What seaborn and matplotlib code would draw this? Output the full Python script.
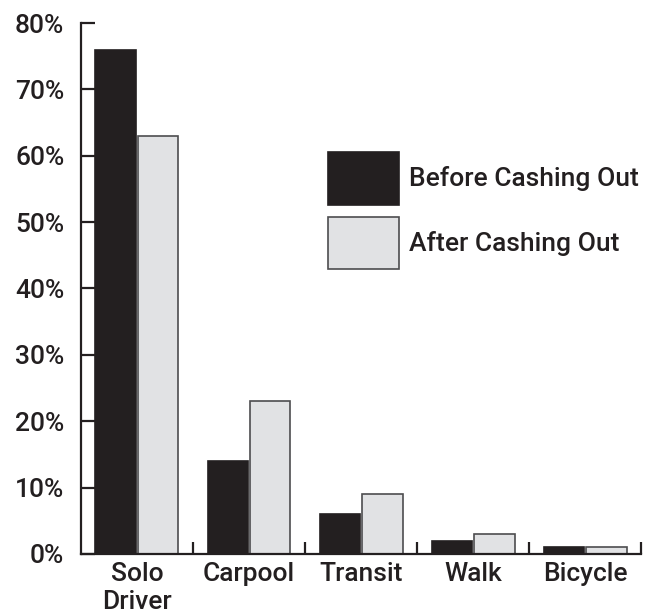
"""Commute mode share before and after parking cash-out, drawn as grouped bars."""

import matplotlib

matplotlib.use("Agg")

import matplotlib.pyplot as plt
import numpy as np
import pandas as pd
import seaborn as sns
from matplotlib.ticker import FixedLocator, PercentFormatter

MODES = ["Solo\nDriver", "Carpool", "Transit", "Walk", "Bicycle"]
BEFORE = [76, 14, 6, 2, 1]
AFTER = [63, 23, 9, 3, 1]
SERIES = ["Before Cashing Out", "After Cashing Out"]
Y_TICKS = [0, 10, 20, 30, 40, 50, 60, 70, 80]

INK = "#231f20"
LIGHT = "#e1e2e4"
EDGE = "#4d4d4f"
FONT_SIZE = 19

df = pd.DataFrame(
    {
        "mode": MODES * 2,
        "share": BEFORE + AFTER,
        "series": [SERIES[0]] * len(MODES) + [SERIES[1]] * len(MODES),
    }
)

sns.set_theme(style="ticks")
plt.rcParams["font.family"] = ["Roboto", "DejaVu Sans"]
plt.rcParams["font.weight"] = "medium"
plt.rcParams["text.color"] = INK

fig = plt.figure(figsize=(6.49, 6.15), dpi=100)
ax = fig.add_axes([0.1248, 0.0992, 0.8629, 0.8634])

sns.barplot(
    data=df,
    x="mode",
    y="share",
    hue="series",
    order=MODES,
    hue_order=SERIES,
    palette=[INK, LIGHT],
    width=0.76,
    gap=0.05,
    edgecolor=EDGE,
    linewidth=1.2,
    saturation=1,
    errorbar=None,
    ax=ax,
)

for bar in ax.patches:
    if bar.get_facecolor()[0] < 0.5:
        bar.set_edgecolor(INK)

ax.set_xlim(-0.5, len(MODES) - 0.5)
ax.set_ylim(0, 80)
ax.set_xlabel("")
ax.set_ylabel("")
ax.set_yticks(Y_TICKS)
ax.yaxis.set_major_formatter(PercentFormatter(decimals=0))
ax.xaxis.set_minor_locator(FixedLocator(np.arange(0.5, len(MODES), 1.0)))

sns.despine(ax=ax, top=True, right=True)
for side in ("left", "bottom"):
    ax.spines[side].set_linewidth(1.6)
    ax.spines[side].set_color(INK)

ax.tick_params(axis="y", direction="in", length=10, width=1.6, color=INK,
               pad=12, labelsize=FONT_SIZE, labelcolor=INK)
ax.tick_params(axis="x", which="major", length=0, pad=6, labelsize=FONT_SIZE,
               labelcolor=INK)
ax.tick_params(axis="x", which="minor", direction="in", length=9, width=1.6,
               color=INK)
for label in ax.get_xticklabels():
    label.set_linespacing(1.18)

handles, labels = ax.get_legend_handles_labels()
ax.legend(
    handles,
    labels,
    loc="upper left",
    bbox_to_anchor=(328 / 649, 1 - 152 / 615),
    bbox_transform=fig.transFigure,
    frameon=False,
    fontsize=FONT_SIZE,
    handlelength=2.7,
    handleheight=2.7,
    handletextpad=0.38,
    labelspacing=0.45,
    borderpad=0,
    borderaxespad=0,
)

fig.savefig("out.png", dpi=100)
